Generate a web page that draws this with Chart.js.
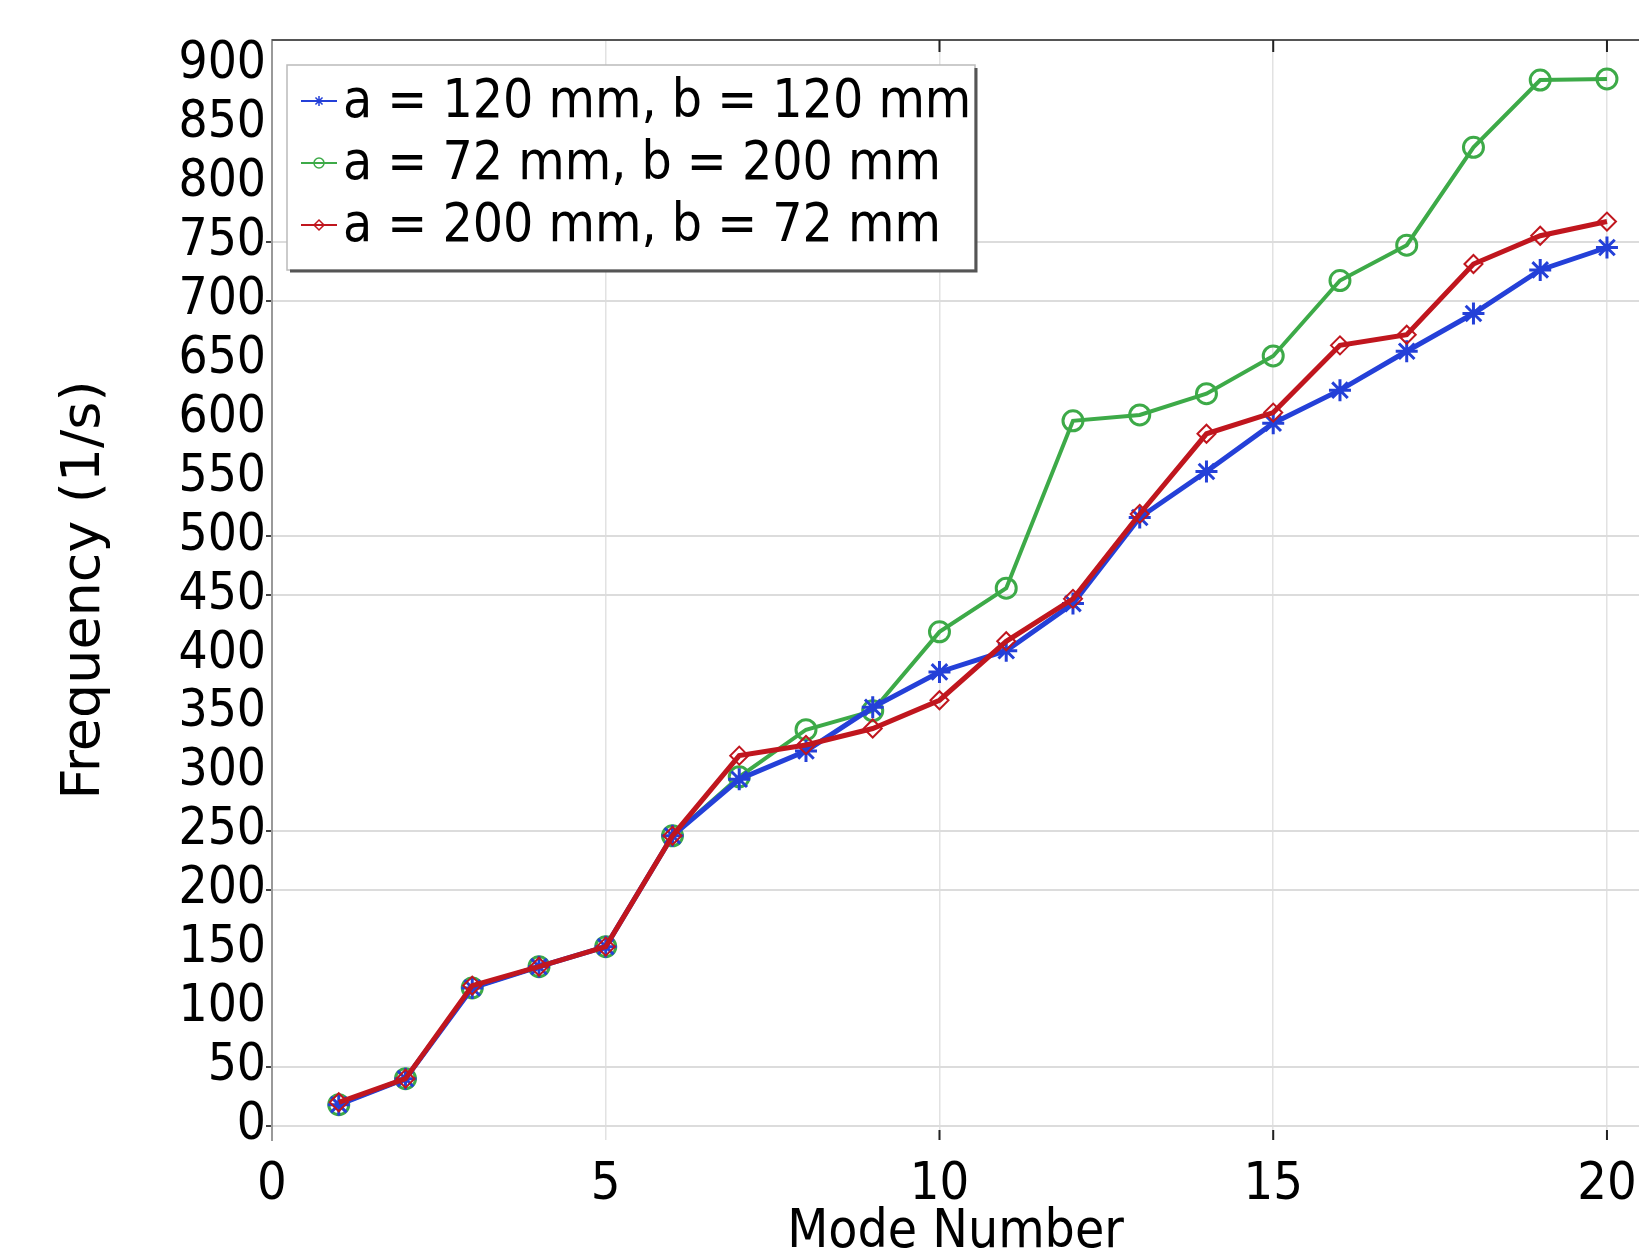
<!DOCTYPE html>
<html>
<head>
<meta charset="utf-8">
<script src="https://cdn.jsdelivr.net/npm/chart.js@4.4.1/dist/chart.umd.min.js"></script>
<style>
  html, body { margin: 0; padding: 0; background: #fff; }
  #wrap { width: 1639px; height: 1254px; }
</style>
</head>
<body>
<div id="wrap"><canvas id="freq_chart" width="1639" height="1254"></canvas></div>
<script>
// mode numbers and eigenfrequencies (1/s)
const modes = [1, 2, 3, 4, 5, 6, 7, 8, 9, 10, 11, 12, 13, 14, 15, 16, 17, 18, 19, 20];
const freqSquare = [18, 40, 117, 135, 152, 246, 294, 318, 355, 385, 403, 443, 516, 555, 596, 624, 657, 689, 726, 745];
const freqTall = [18, 40, 117, 135, 152, 246, 296, 336, 352, 419, 456, 598, 603, 621, 653, 717, 747, 830, 887, 888];
const freqWide = [20, 40, 119, 135, 152, 246, 314, 323, 337, 361, 411, 447, 519, 587, 605, 662, 671, 731, 755, 767];

const seriesLabels = ['a = 120 mm, b = 120 mm', 'a = 72 mm, b = 200 mm', 'a = 200 mm, b = 72 mm'];
const yTicksWithGrid = [0, 50, 200, 250, 450, 500, 700, 750];
const xTicksMarked = [10, 15, 20];

const condensed = "'DejaVu Sans Condensed', 'DejaVu Sans', sans-serif";

function pts(ys) {
    return modes.map((m, i) => ({x: m, y: ys[i]}));
}

const frameBorder = {
    id: 'frameBorder',
    afterDatasetsDraw(chart) {
        const {ctx, chartArea: {left, top, right, bottom}} = chart;
        const xs = chart.scales.x;
        ctx.save();
        ctx.strokeStyle = '#555';
        ctx.lineWidth = 2;
        ctx.beginPath();
        ctx.moveTo(left, top);
        ctx.lineTo(right, top);
        ctx.stroke();
        ctx.strokeStyle = '#222';
        xTicksMarked.forEach(v => {
            const px = xs.getPixelForValue(v);
            ctx.beginPath();
            ctx.moveTo(px, top);
            ctx.lineTo(px, top + 12);
            ctx.moveTo(px, bottom);
            ctx.lineTo(px, bottom - 10);
            ctx.stroke();
        });
        ctx.restore();
    }
};

const insideLegend = {
    id: 'insideLegend',
    afterDraw(chart) {
        const {ctx, chartArea: {left, top}} = chart;
        const x = left + 15, y = top + 25, w = 688, h = 205;
        ctx.save();
        ctx.fillStyle = '#fff';
        ctx.fillRect(x, y, w, h);
        ctx.strokeStyle = '#bbb';
        ctx.lineWidth = 1.5;
        ctx.strokeRect(x, y, w, h);
        ctx.strokeStyle = '#555';
        ctx.lineWidth = 3;
        ctx.beginPath();
        ctx.moveTo(x + 3, y + h + 1);
        ctx.lineTo(x + w + 1, y + h + 1);
        ctx.lineTo(x + w + 1, y + 3);
        ctx.stroke();

        chart.data.datasets.forEach((ds, i) => {
            const cy = y + 36 + i * 62;
            ctx.strokeStyle = ds.borderColor;
            ctx.lineWidth = 2;
            ctx.beginPath();
            ctx.moveTo(x + 14, cy);
            ctx.lineTo(x + 50, cy);
            ctx.stroke();
            ctx.fillStyle = 'rgba(0,0,0,0)';
            ctx.lineWidth = 1.5;
            Chart.helpers.drawPoint(ctx, {pointStyle: ds.pointStyle, radius: 5, rotation: 0, borderWidth: 1.5}, x + 32, cy);
            ctx.fillStyle = '#000';
            ctx.font = "53px " + condensed;
            ctx.textBaseline = 'middle';
            ctx.textAlign = 'left';
            ctx.fillText(ds.label, x + 56, cy + 2);
        });
        ctx.restore();
    }
};

new Chart(document.getElementById('freq_chart'), {
    type: 'scatter',
    data: {
        datasets: [
            {
                label: seriesLabels[0],
                data: pts(freqSquare),
                showLine: true,
                borderColor: '#2440d8',
                backgroundColor: '#2440d8',
                borderWidth: 5,
                pointStyle: 'star',
                pointRadius: 11,
                pointBorderWidth: 3,
                order: 1
            },
            {
                label: seriesLabels[1],
                data: pts(freqTall),
                showLine: true,
                borderColor: '#3daa48',
                backgroundColor: 'rgba(0,0,0,0)',
                borderWidth: 4,
                pointStyle: 'circle',
                pointRadius: 10,
                pointBorderWidth: 3,
                order: 2
            },
            {
                label: seriesLabels[2],
                data: pts(freqWide),
                showLine: true,
                borderColor: '#c0161e',
                backgroundColor: 'rgba(0,0,0,0)',
                borderWidth: 5,
                pointStyle: 'rectRot',
                pointRadius: 9,
                pointBorderWidth: 2,
                order: 0
            }
        ]
    },
    options: {
        responsive: false,
        animation: false,
        layout: {
            autoPadding: false,
            padding: {top: 40, right: 0, left: 0, bottom: 0}
        },
        plugins: {
            legend: {display: false},
            tooltip: {enabled: false}
        },
        scales: {
            x: {
                type: 'linear',
                min: 0,
                max: 20.48,
                afterFit: (scale) => {
                    scale.height = 114;
                    scale.paddingRight = 0;
                    scale.paddingLeft = 0;
                },
                border: {display: false},
                grid: {
                    color: (c) => (c.tick && c.tick.value > 0) ? '#e2e2e2' : 'rgba(0,0,0,0)',
                    lineWidth: 1.5,
                    drawTicks: false
                },
                ticks: {
                    stepSize: 5,
                    includeBounds: false,
                    padding: 19,
                    color: '#000',
                    maxRotation: 0,
                    font: {family: condensed, size: 52, lineHeight: 1}
                },
                title: {
                    display: true,
                    text: 'Mode Number',
                    color: '#000',
                    padding: {top: 0, bottom: -6},
                    font: {family: condensed, size: 53, lineHeight: 1}
                }
            },
            y: {
                min: -12,
                max: 921,
                afterFit: (scale) => { scale.width = 272; },
                border: {display: true, color: '#999', width: 2},
                grid: {
                    color: (c) => yTicksWithGrid.includes(c.tick.value) ? '#dcdcdc' : 'rgba(0,0,0,0)',
                    tickColor: (c) => yTicksWithGrid.includes(c.tick.value) ? '#444' : 'rgba(0,0,0,0)',
                    lineWidth: 2,
                    tickLength: 6
                },
                ticks: {
                    stepSize: 50,
                    includeBounds: false,
                    autoSkip: false,
                    padding: 0,
                    color: '#000',
                    font: {family: condensed, size: 51, lineHeight: 1}
                },
                title: {
                    display: true,
                    text: 'Frequency (1/s)',
                    color: '#000',
                    padding: {top: 58, bottom: 0},
                    font: {family: "'DejaVu Sans', sans-serif", size: 54, lineHeight: 1}
                }
            }
        }
    },
    plugins: [frameBorder, insideLegend]
});
</script>
</body>
</html>
